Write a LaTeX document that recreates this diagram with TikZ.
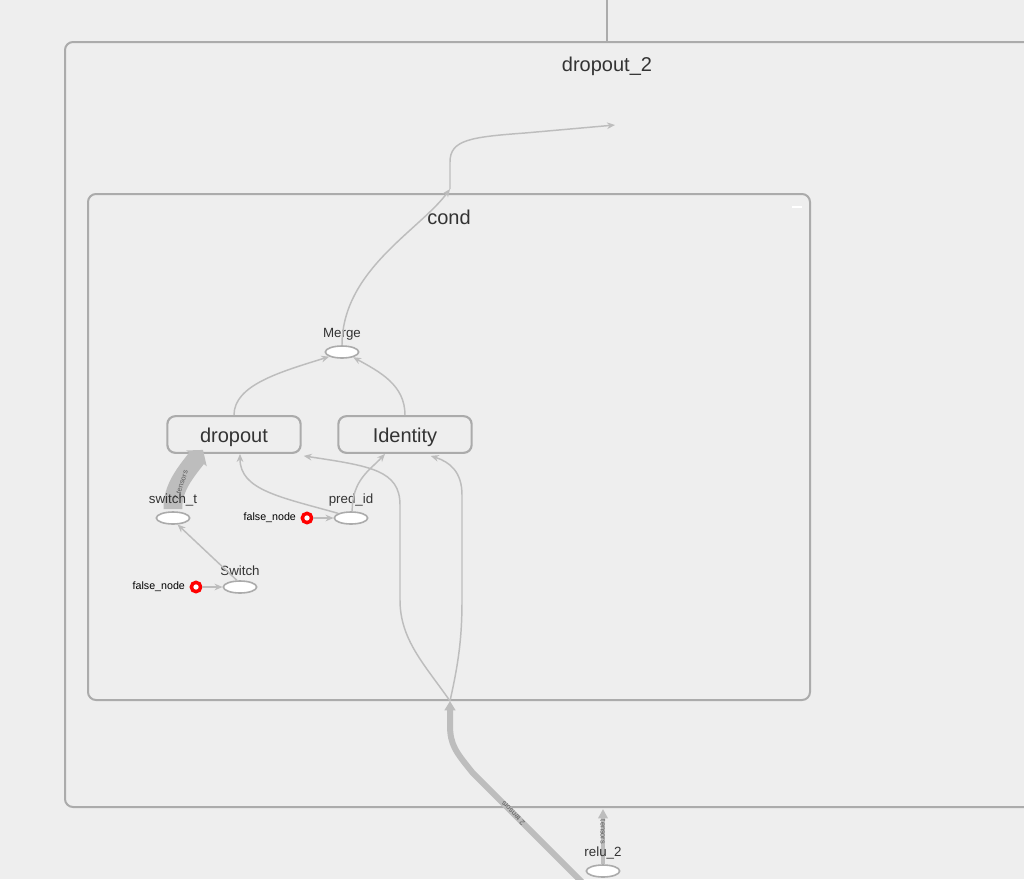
\documentclass[tikz,border=0pt]{standalone}
\usepackage{fontspec}
\setmainfont{Liberation Sans}
\usepackage{xcolor}
\usetikzlibrary{positioning,arrows.meta,shapes.geometric,calc}
\definecolor{bgc}{HTML}{EEEEEE}
\definecolor{boxc}{HTML}{ABABAB}
\definecolor{edgec}{HTML}{BDBDBD}
\definecolor{txtc}{HTML}{333333}
\definecolor{tenc}{HTML}{5A5A5A}

\begin{document}
\begin{tikzpicture}[
  x=0.75pt, y=-0.75pt, >={Stealth[length=6pt,width=5pt]},
  grp/.style={draw=boxc,line width=1.5pt,rounded corners=6pt},
  grplabel/.style={text=txtc,font=\fontsize{15}{18}\selectfont},
  op/.style={draw=boxc,fill=white,ellipse,line width=1.2pt,minimum width=25pt,minimum height=9pt,inner sep=0pt},
  meta/.style={draw=boxc,fill=bgc,rounded corners=6pt,line width=1.6pt,minimum width=100pt,minimum height=27.5pt,inner sep=0pt,
    text height=13pt,text depth=1pt,text=txtc,font=\fontsize{15}{18}\selectfont},
  lbl/.style={text=txtc,font=\fontsize{10}{12}\selectfont},
  clbl/.style={text=black,font=\fontsize{8}{10}\selectfont},
  const/.style={circle,draw=red,fill=white,line width=2.6pt,minimum size=7pt,inner sep=0pt},
  flow/.style={->,draw=edgec,line width=1.1pt},
  bulk/.style={-{Triangle[length=8pt,width=19pt]},draw=edgec,line width=14pt},
  bulk2/.style={-{Triangle[length=7pt,width=8pt]},draw=edgec,line width=4.5pt},
  tens/.style={text=tenc,font=\fontsize{5.5}{6}\selectfont,inner sep=0pt}
]
\useasboundingbox (0,0) rectangle (1024,879);
\fill[bgc] (0,0) rectangle (1024,879);
\clip (0,0) rectangle (1024,879);

% groups
\draw[grp] (65,42) rectangle (1040,807);
\node[grplabel] (dropout2lbl) at (607,66) {dropout\_2};
\draw[grp] (88,194) rectangle (810,700);
\node[grplabel] (condlbl) at (449,217) {cond};
\draw[white,line width=1.5pt] (792,207) -- (802,207);

% ports on the group borders
\coordinate (topend) at (607,0);
\coordinate (topin) at (607,42);
\coordinate (condout) at (450,189);
\coordinate (outtip) at (615,125);
\coordinate (condin) at (450,701);
\coordinate (dropin) at (603,809);
\coordinate (src) at (592,892);

% nodes
\node[op] (merge) at (342,352) {};
\node[lbl,above=0pt of merge] (mergelbl) {Merge};
\node[meta] (dropout) at (234,434.5) {dropout};
\node[meta] (identity) at (405,434.5) {Identity};
\node[op] (switcht) at (173,518) {};
\node[op] (pred) at (351,518) {};
\node[lbl,above=0pt of pred] (predlbl) {pred\_id};
\node[const] (fnpred) at (307,518) {};
\node[clbl,left=0pt of fnpred] (fnpredlbl) {false\_node};
\node[op] (switch) at (240,587) {};
\node[lbl,above=0pt of switch] (switchlbl) {Switch};
\node[const] (fnswitch) at (196,587) {};
\node[clbl,left=0pt of fnswitch] (fnswitchlbl) {false\_node};
\node[op] (relu) at (603,871) {};

% edges
\draw[draw=boxc,line width=1pt] (topend) -- (topin);
\draw[flow] (merge.north) .. controls (342,270) and (420,230) .. (condout);
\draw[flow] (condout) -- (450,162) .. controls (450,140) and (470,137) .. (525,133) -- (outtip);
\draw[flow] (dropout.north) .. controls (234,385) and (280,372) .. (merge.200);
\draw[flow] (identity.north) .. controls (405,385) and (380,372) .. (merge.-25);
\draw[bulk] ($(switcht.north)+(0,-2)$) .. controls (172,488) and (186,472) .. ($(dropout.south)+(-31,-4)$);
\node[tens,rotate=72] (bulklbl1) at (181,485) {7 tensors};
\node[lbl,above=0pt of switcht] (switchtlbl) {switch\_t};
\draw[flow] (switch.115) -- (switcht.-55);
\draw[flow] (fnswitch) -- (switch);
\draw[flow] (fnpred) -- (pred);
\draw[flow] (pred.160) .. controls (280,497) and (240,490) .. ($(dropout.south)+(6,0)$);
\draw[flow] (pred.80) .. controls (352,480) and (370,470) .. ($(identity.south)+(-20,0)$);
\draw[flow] (condin) .. controls (425,665) and (400,640) .. (400,600) -- (400,505)
  .. controls (400,470) and (370,466) .. ($(dropout.south east)+(2,2)$);
\draw[flow] (condin) .. controls (458,665) and (462,640) .. (462,600) -- (462,495)
  .. controls (462,472) and (450,462) .. ($(identity.south east)+(-42,2)$);
\draw[bulk2] (src) -- (472,772) .. controls (456,752) and (450,745) .. (450,725) -- (condin);
\node[tens,rotate=134] (bulklbl2) at (513,813) {2 tensors};
\draw[bulk2,line width=3pt,-{Triangle[length=7pt,width=7pt]}] (relu.north) -- (dropin);
\node[tens,rotate=-90] (relutens) at (603,832) {tensors};
\node[lbl,above=0pt of relu] (relulbl) {relu\_2};
\end{tikzpicture}
\end{document}
